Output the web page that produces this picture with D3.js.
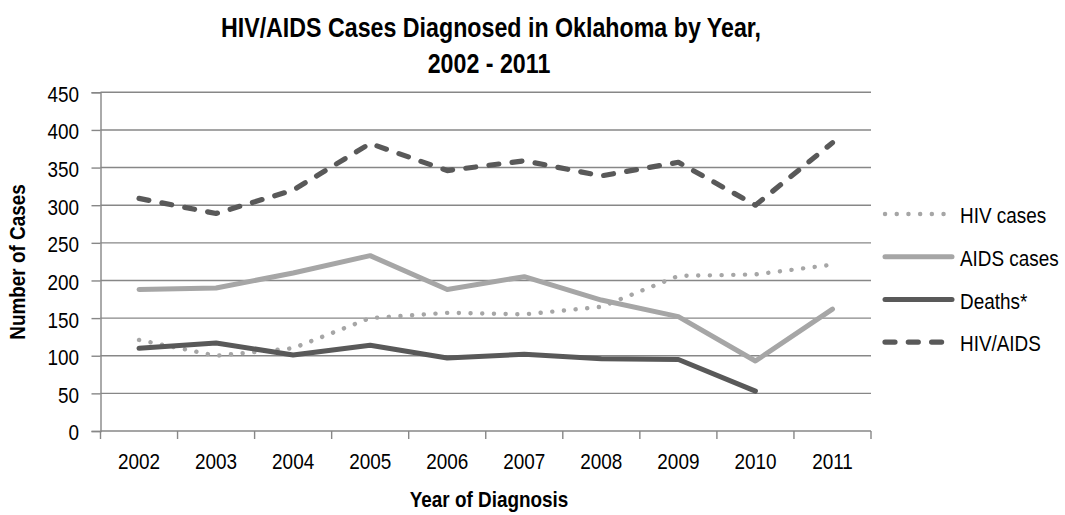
<!DOCTYPE html>
<html>
<head>
<meta charset="utf-8">
<script src="https://cdn.jsdelivr.net/npm/d3@7"></script>
<style>
  html, body { margin: 0; padding: 0; background: #fff; }
  svg { display: block; font-family: "Liberation Sans", Arial, sans-serif; }
</style>
</head>
<body>
<svg id="chart" width="1065" height="515"></svg>
<script>
// Annual counts, Oklahoma 2002-2011
const years = ["2002", "2003", "2004", "2005", "2006", "2007", "2008", "2009", "2010", "2011"];
const hivCases = [121, 100, 110, 150, 157, 155, 165, 206, 208, 221];
const aidsCases = [188, 190, 210, 233, 188, 205, 174, 152, 93, 162];
const deaths = [110, 117, 101, 114, 97, 102, 96, 95, 53, null];
const hivAids = [309, 289, 320, 382, 346, 359, 339, 357, 300, 383];
const yTicks = [0, 50, 100, 150, 200, 250, 300, 350, 400, 450];

const series = [
  { name: "HIV cases", values: hivCases, color: "#a6a6a6", width: 4.4, dash: "0.1 11.6" },
  { name: "AIDS cases", values: aidsCases, color: "#a6a6a6", width: 5, dash: null },
  { name: "Deaths*", values: deaths, color: "#595959", width: 5, dash: null },
  { name: "HIV/AIDS", values: hivAids, color: "#595959", width: 5.2, dash: "10 13.3" }
];

const svg = d3.select("#chart");
const plotLeft = 100.5, plotRight = 871, plotTop = 92.3, plotBottom = 431;
const GRID = "#878787";
const NARROW = 0.86; // horizontal squeeze for a condensed face

// Place a condensed text label at (x, y)
function narrowText(parent, x, y, str, size, anchor, bold, rotate) {
  return parent.append("text")
    .attr("transform", `translate(${x},${y})` + (rotate ? ` rotate(${rotate})` : "") + ` scale(${NARROW},1)`)
    .attr("text-anchor", anchor)
    .attr("font-size", size)
    .attr("font-weight", bold ? "bold" : "normal")
    .attr("fill", "#000")
    .text(str);
}

const x = d3.scaleBand().domain(years).range([plotLeft, plotRight]);
const y = d3.scaleLinear().domain([0, 450]).range([plotBottom, plotTop]);

// Horizontal gridlines
svg.append("g")
  .selectAll("line")
  .data(yTicks.filter(d => d > 0))
  .join("line")
  .attr("x1", plotLeft).attr("x2", plotRight)
  .attr("y1", d => y(d)).attr("y2", d => y(d))
  .attr("stroke", GRID).attr("stroke-width", 1.4);

// Y axis line and ticks
const yAxis = svg.append("g")
  .attr("transform", `translate(${plotLeft},0)`)
  .call(d3.axisLeft(y).tickValues(yTicks).tickSize(9).tickFormat(""));
yAxis.select(".domain").attr("stroke", GRID).attr("stroke-width", 1.4);
yAxis.selectAll(".tick line").attr("stroke", GRID).attr("stroke-width", 1.4);
const yLabels = svg.append("g");
yTicks.forEach(t => narrowText(yLabels, 79, y(t) + 9.4, String(t), 22, "end"));

// X axis with ticks at band boundaries
const xAxisG = svg.append("g").attr("transform", `translate(0,${plotBottom})`);
xAxisG.append("line")
  .attr("x1", plotLeft).attr("x2", plotRight).attr("y1", 0).attr("y2", 0)
  .attr("stroke", GRID).attr("stroke-width", 1.4);
const bounds = years.map(d => x(d)).concat([plotRight]);
xAxisG.selectAll("line.tk")
  .data(bounds)
  .join("line").attr("class", "tk")
  .attr("x1", d => d).attr("x2", d => d)
  .attr("y1", 0).attr("y2", 8)
  .attr("stroke", GRID).attr("stroke-width", 1.4);
const xLabels = svg.append("g");
years.forEach(yr => narrowText(xLabels, x(yr) + x.bandwidth() / 2, 469.3, yr, 22, "middle"));

// Series lines
const line = d3.line()
  .defined(d => d != null)
  .x((d, i) => x(years[i]) + x.bandwidth() / 2)
  .y(d => y(d));

svg.append("g")
  .selectAll("path")
  .data(series)
  .join("path")
  .attr("d", s => line(s.values))
  .attr("fill", "none")
  .attr("stroke", s => s.color)
  .attr("stroke-width", s => s.width)
  .attr("stroke-linecap", "round")
  .attr("stroke-linejoin", "round")
  .attr("stroke-dasharray", s => s.dash);

// Legend
const legend = svg.append("g");
series.forEach((s, i) => {
  const ly = 214 + i * 42.7;
  legend.append("line")
    .attr("x1", 885).attr("x2", 952)
    .attr("y1", ly).attr("y2", ly)
    .attr("stroke", s.color)
    .attr("stroke-width", s.width)
    .attr("stroke-linecap", "round")
    .attr("stroke-dasharray", s.dash);
  narrowText(legend, 960, ly + 9.3, s.name, 22, "start");
});

// Titles
narrowText(svg, 491, 36.7, "HIV/AIDS Cases Diagnosed in Oklahoma by Year,", 27, "middle", true);
narrowText(svg, 489, 73.3, "2002 - 2011", 27, "middle", true);
narrowText(svg, 489, 507, "Year of Diagnosis", 22, "middle", true);
narrowText(svg, 25, 262, "Number of Cases", 22, "middle", true, -90);
</script>
</body>
</html>
